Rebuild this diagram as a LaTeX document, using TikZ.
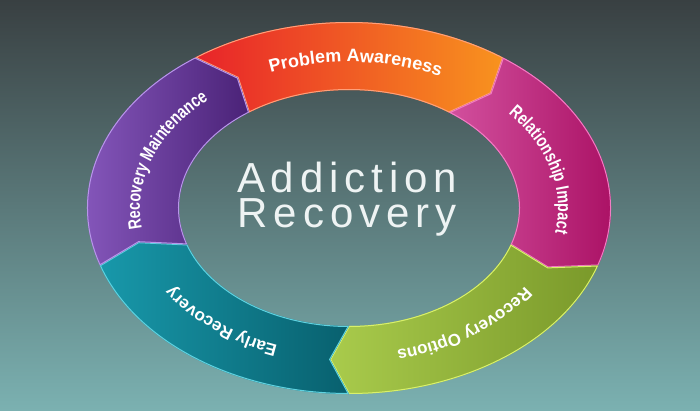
\documentclass[tikz,border=0pt]{standalone}
\usepackage{fontspec}
\setmainfont{Liberation Sans}
\newfontfamily\narrowfont{Liberation Sans}[FakeStretch=0.77]
\newfontfamily\bigfont{Liberation Sans}[LetterSpace=14]
\usetikzlibrary{decorations.text}
\definecolor{bgtop}{HTML}{394042}
\definecolor{bgbot}{HTML}{7BB1B1}
\definecolor{paL}{HTML}{E8232A}\definecolor{paR}{HTML}{F8931E}\definecolor{paO}{HTML}{FFA07A}
\definecolor{riL}{HTML}{D2509E}\definecolor{riR}{HTML}{A60A5E}\definecolor{riO}{HTML}{F27CC4}
\definecolor{roL}{HTML}{A9CB4C}\definecolor{roR}{HTML}{7A992A}\definecolor{roO}{HTML}{D9F06A}
\definecolor{erL}{HTML}{1898AA}\definecolor{erR}{HTML}{08606E}\definecolor{erO}{HTML}{5FD2E0}
\definecolor{rmL}{HTML}{8B5CC2}\definecolor{rmR}{HTML}{4A2277}\definecolor{rmO}{HTML}{B896EA}
\definecolor{ctext}{HTML}{EEF3F3}
\newcommand\cx{349}
\newcommand\cy{202}
\newcommand\segpath[2]{({\cx+262*cos(#1)},{\cy+186*sin(#1)}) arc[start angle=#1, end angle=#2, x radius=262, y radius=186]
 -- ({\cx+216*cos(#2-5)},{\cy+152*sin(#2-5)})
 -- ({\cx+170*cos(#2)},{\cy+118*sin(#2)}) arc[start angle=#2, end angle=#1, x radius=170, y radius=118]
 -- ({\cx+216*cos(#1-5)},{\cy+152*sin(#1-5)}) -- cycle}
\newcommand\txtpath[2]{({\cx+209*cos(#1)},{\cy+146*sin(#1)}) arc[start angle=#1, end angle=#2, x radius=209, y radius=146]}
\newcommand\fWide{\bfseries\fontsize{18}{20}\selectfont}
\newcommand\fMid{\bfseries\fontsize{17}{19}\selectfont}
\newcommand\fNarrow{\narrowfont\bfseries\fontsize{18.5}{20}\selectfont}
\newcommand\segment[5]{%
 \begin{scope}
 \clip \segpath{#1}{#2};
 \shade[left color=#3, right color=#4] \segpath{#1}{#2};
 \draw[#5, line width=2pt] \segpath{#1}{#2};
 \end{scope}}
\tikzset{
 ringtext/.style={decorate, decoration={text along path, text align=center, text color=white, text={#1}}},
 centertext/.style={text=ctext, font=\bigfont\fontsize{42}{42}\selectfont, inner sep=0pt, anchor=base}
}
\begin{document}
\begin{tikzpicture}[x=1pt,y=1pt]
\useasboundingbox (0,0) rectangle (700,410);
\shade[top color=bgtop, bottom color=bgbot] (0,0) rectangle (700,410);
\segment{126}{54}{paL}{paR}{paO}
\segment{54}{-18}{riL}{riR}{riO}
\segment{-18}{-90}{roL}{roR}{roO}
\segment{-90}{-162}{erL}{erR}{erO}
\segment{-162}{-234}{rmL}{rmR}{rmO}
\path[ringtext={|\fWide|Problem Awareness}] \txtpath{123}{53};
\path[ringtext={|\fNarrow|Relationship Impact}] \txtpath{49}{-20};
\path[ringtext={|\fMid|Recovery Options}] \txtpath{-18}{-88};
\path[ringtext={|\fMid|Early Recovery}] \txtpath{-96}{-166};
\path[ringtext={|\fNarrow|Recovery Maintenance}] \txtpath{196}{126};
\node[centertext] (t1) at (347,218) {Addiction};
\node[centertext] (t2) at (347,183) {Recovery};
\end{tikzpicture}
\end{document}
